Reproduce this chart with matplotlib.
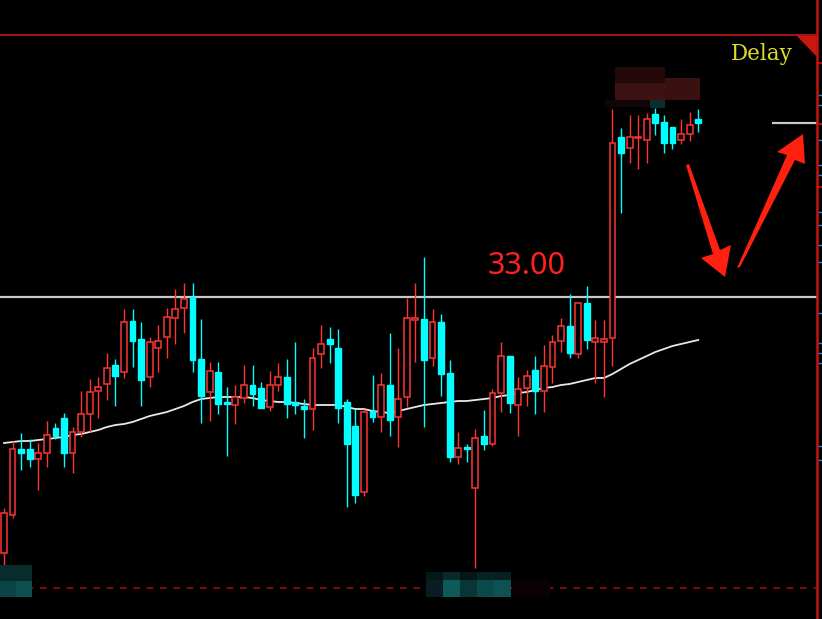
import numpy as np
import matplotlib
matplotlib.use("Agg")
import matplotlib.pyplot as plt
from matplotlib.patches import Polygon, Rectangle

# Candle data (price)
opens = [
    27.88, 28.64, 29.96, 29.96, 29.76, 29.88, 30.38, 30.58, 29.88, 30.30,
    30.66, 31.12, 31.26, 31.64, 31.50, 32.52, 32.16, 31.40, 31.98, 32.20,
    32.58, 32.78, 33.00, 31.76, 31.10, 31.50, 30.90, 30.84, 30.98, 31.24,
    31.18, 30.80, 31.24, 31.40, 30.90, 30.82, 30.76, 31.86, 32.16, 31.98,
    30.90, 30.42, 29.10, 30.72, 30.60, 31.24, 30.60, 31.00, 32.54, 32.56,
    31.78, 32.50, 31.48, 29.80, 30.00, 29.18, 30.22, 30.06, 31.08, 31.82,
    30.84, 31.18, 31.54, 31.12, 31.60, 32.12, 32.42, 31.86, 32.88, 32.10,
    32.10, 32.18, 36.20, 35.98, 36.18, 36.14, 36.66, 36.50, 36.40, 36.14,
    36.26, 36.56,
]
highs = [
    28.78, 30.12, 30.28, 30.16, 30.08, 30.52, 30.48, 30.68, 30.40, 31.12,
    31.36, 31.40, 31.88, 31.76, 32.76, 32.76, 32.50, 32.20, 32.44, 32.78,
    33.16, 33.28, 33.28, 32.56, 31.70, 31.70, 31.20, 31.24, 31.64, 31.64,
    31.30, 31.52, 31.68, 31.76, 32.10, 30.96, 31.98, 32.44, 32.40, 32.36,
    30.96, 30.76, 30.76, 31.44, 31.48, 32.28, 31.98, 32.98, 33.28, 33.80,
    32.76, 32.66, 31.74, 30.30, 30.06, 30.36, 30.74, 31.16, 32.10, 31.82,
    31.40, 31.54, 31.82, 32.04, 32.24, 32.58, 33.06, 32.90, 33.22, 32.54,
    32.54, 36.76, 36.38, 36.64, 36.64, 36.68, 36.78, 36.64, 36.40, 36.56,
    36.70, 36.76,
]
lows = [
    27.64, 28.58, 29.54, 29.60, 29.14, 29.60, 30.16, 29.60, 29.48, 30.20,
    30.30, 30.58, 30.94, 30.82, 31.38, 31.60, 30.82, 31.20, 31.50, 31.78,
    32.06, 32.28, 31.50, 30.48, 30.52, 30.66, 29.82, 30.46, 30.88, 30.82,
    30.78, 30.72, 31.12, 30.58, 30.66, 30.18, 30.34, 31.58, 31.68, 30.48,
    28.80, 28.88, 29.02, 30.50, 30.30, 30.22, 30.00, 30.80, 31.70, 30.40,
    31.62, 31.02, 29.70, 29.66, 29.70, 27.58, 29.94, 30.02, 30.70, 30.68,
    30.22, 30.82, 30.66, 30.70, 31.28, 31.90, 31.78, 31.78, 31.96, 31.28,
    31.00, 31.62, 34.68, 35.68, 35.56, 35.68, 36.24, 35.88, 35.96, 36.06,
    36.12, 36.30,
]
closes = [
    28.68, 29.96, 29.88, 29.76, 29.88, 30.24, 30.22, 29.88, 30.30, 30.66,
    31.10, 31.20, 31.58, 31.42, 32.50, 32.12, 31.34, 32.10, 32.12, 32.60,
    32.76, 32.96, 31.74, 31.02, 31.52, 30.86, 30.86, 31.00, 31.24, 31.06,
    30.78, 31.24, 31.40, 30.86, 30.84, 30.76, 31.78, 32.06, 32.06, 30.78,
    30.06, 29.04, 30.70, 30.60, 31.24, 30.54, 30.96, 32.58, 32.58, 31.74,
    32.50, 31.46, 29.80, 29.98, 29.96, 30.18, 30.06, 31.08, 31.82, 30.88,
    31.16, 31.42, 31.12, 31.62, 32.10, 32.42, 31.88, 32.88, 32.14, 32.18,
    32.16, 36.08, 35.88, 36.20, 36.20, 36.56, 36.48, 36.08, 36.08, 36.26,
    36.44, 36.48,
]
ma = [
    30.08, 30.10, 30.12, 30.12, 30.14, 30.16, 30.18, 30.20, 30.24, 30.26,
    30.30, 30.34, 30.40, 30.44, 30.46, 30.50, 30.56, 30.62, 30.66, 30.70,
    30.76, 30.82, 30.90, 30.96, 30.98, 31.00, 31.00, 31.00, 31.00, 30.98,
    30.94, 30.92, 30.90, 30.90, 30.88, 30.86, 30.84, 30.84, 30.84, 30.84,
    30.80, 30.76, 30.76, 30.72, 30.70, 30.68, 30.72, 30.76, 30.80, 30.84,
    30.86, 30.88, 30.90, 30.92, 30.92, 30.94, 30.96, 30.98, 31.02, 31.04,
    31.08, 31.10, 31.14, 31.18, 31.20, 31.24, 31.26, 31.30, 31.34, 31.38,
    31.38, 31.46, 31.56, 31.66, 31.74, 31.82, 31.90, 31.96, 32.02, 32.06,
    32.10, 32.14,
]
level = 33.00
level_label = "33.00"
delay_label = "Delay"

RED = "#ff3535"
CYAN = "#00ffff"
W, H = 822, 619

fig = plt.figure(figsize=(W / 100, H / 100), dpi=100, facecolor="black")
ax = fig.add_axes([0, 0, 1, 1])
ax.set_facecolor("black")
ax.axis("off")
ax.set_xlim(-4 / 8.57, (W - 4) / 8.57)
ax.set_ylim(38.94 - 0.02 * H, 38.94)


def px(x, y):
    # pixel position -> axes fraction
    return x / W, 1 - y / H


def rect(x0, y0, x1, y1, color):
    ax.add_patch(Rectangle(px(x0, y1), (x1 - x0) / W, (y1 - y0) / H,
                           transform=ax.transAxes, color=color, lw=0, zorder=5))


o = np.array(opens)
h = np.array(highs)
l = np.array(lows)
c = np.array(closes)
idx = np.arange(len(o))
up = c >= o
top = np.maximum(o, c)
bot = np.minimum(o, c)
cols = np.where(up, RED, CYAN)

# Candles
ax.vlines(idx, top, h, colors=cols, lw=1.0, zorder=3)
ax.vlines(idx, l, bot, colors=cols, lw=1.0, zorder=3)
ax.bar(idx[up], (top - bot)[up], bottom=bot[up], width=0.68,
       facecolor="black", edgecolor=RED, linewidth=1.1, zorder=4)
ax.bar(idx[~up], (top - bot)[~up], bottom=bot[~up], width=0.68,
       facecolor=CYAN, edgecolor=CYAN, linewidth=1.0, zorder=4)

# Moving average
ax.plot(idx, ma, color="#e8e8e8", lw=1.3, zorder=2)

# Horizontal levels
ax.axhline(level, xmax=817 / W, color="#c8c8c8", lw=1.6, zorder=2)
ax.plot([773 / W, 817 / W], [1 - 123 / H] * 2, transform=ax.transAxes,
        color="#c8c8c8", lw=1.6)
ax.text(*px(527, 266), level_label, transform=ax.transAxes, color="#ff2020",
        fontsize=22, family="Noto Sans", ha="center", va="center")

# Frame
ax.plot([0, 817 / W], [1 - 35 / H] * 2, transform=ax.transAxes,
        color="#b81414", lw=1.3)
ax.plot([817 / W] * 2, [0, 1], transform=ax.transAxes, color="#c01414", lw=1.8)
for ty in [63, 124, 187]:
    ax.plot([817 / W, 1], [1 - ty / H] * 2, transform=ax.transAxes,
            color="#c01414", lw=1.2)
for ty in [95, 105, 140, 165, 175, 212, 225, 245, 262, 313, 343, 353, 363, 446, 460]:
    ax.plot([819 / W, 821 / W], [1 - ty / H] * 2, transform=ax.transAxes,
            color="#3a7fd0", lw=1.0)
ax.add_patch(Polygon([px(797, 36), px(817, 36), px(817, 57)], closed=True,
                     transform=ax.transAxes, color="#c8180e", lw=0))
ax.plot([0, 817 / W], [1 - 588 / H] * 2, transform=ax.transAxes,
        color="#9a0a0a", lw=1.2, ls=(0, (4, 4)))
ax.text(*px(762, 54), delay_label, transform=ax.transAxes, color="#dede28",
        fontsize=15.5, family="DejaVu Serif", ha="center", va="center")

# Red arrows
ax.add_patch(Polygon([px(686, 165), px(689, 164), px(720, 250), px(731, 245),
                      px(725, 277), px(701, 258), px(713, 254)], closed=True,
                     transform=ax.transAxes, color="#ff2010", lw=0, zorder=6))
ax.add_patch(Polygon([px(737, 268), px(740, 267), px(795, 160), px(805, 164),
                      px(803, 134), px(777, 152), px(787, 155)], closed=True,
                     transform=ax.transAxes, color="#ff2010", lw=0, zorder=6))

# Pixelated blur patches
rect(0, 565, 32, 581, "#082b2b")
rect(0, 581, 16, 597, "#0b4444")
rect(16, 581, 32, 597, "#0d5050")
for x0, c1, c2 in [(426, "#051818", "#081e22"), (443, "#082a2a", "#0e5a5a"),
                   (460, "#061616", "#093535"), (477, "#072424", "#0b4a4a"),
                   (494, "#072020", "#0d5252")]:
    rect(x0, 572, x0 + 17, 580, c1)
    rect(x0, 580, x0 + 17, 597, c2)
rect(512, 580, 550, 597, "#0a0202")
rect(615, 67, 665, 83, "#230909")
rect(615, 83, 665, 100, "#3c1212")
rect(665, 78, 700, 100, "#3a1010")
rect(650, 100, 665, 108, "#0a2e2e")
rect(605, 100, 650, 107, "#120505")

fig.savefig("out.png", dpi=100, facecolor="black")
